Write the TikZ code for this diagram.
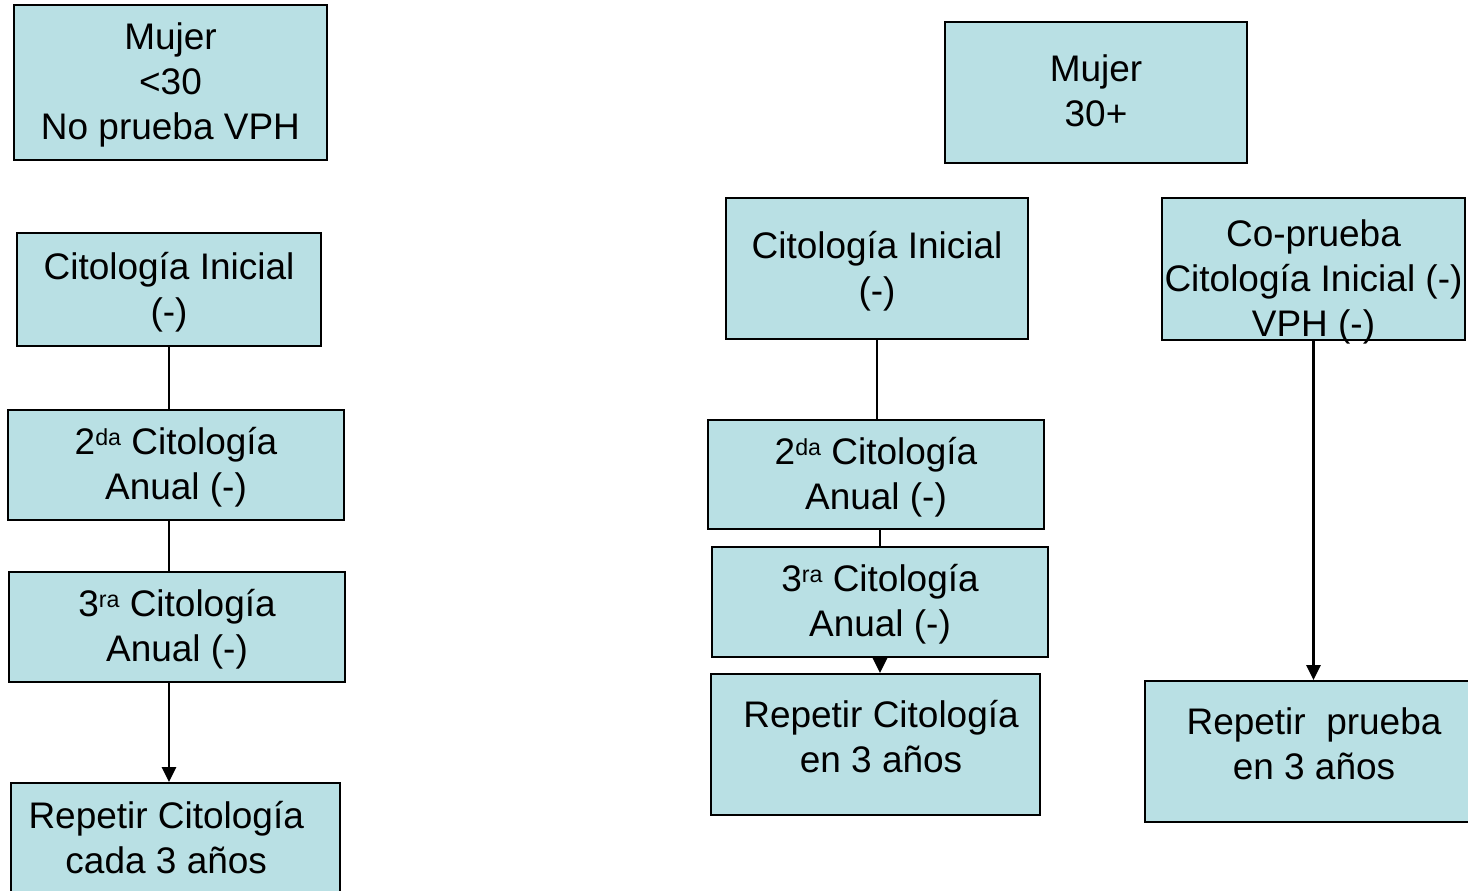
\documentclass[tikz,border=0pt]{standalone}
\usepackage{fontspec}
\setmainfont{Liberation Sans}
\usepackage{tikz}
\usetikzlibrary{arrows.meta}
\definecolor{cajaazul}{RGB}{185,224,228}
\newcommand{\supind}[1]{\raisebox{0.24em}{\fontsize{16.5}{16.5}\selectfont #1}}

\begin{document}
\begin{tikzpicture}[x=0.025cm, y=-0.025cm,
        caja/.style={draw, line width=1.5pt, fill=cajaazul, align=center, inner sep=0pt,
            font=\fontsize{26.3}{32}\selectfont, text depth=2.1pt,
            execute at begin node={\rule{0pt}{0.905em}}},
        linea/.style={line width=1.8pt},
        flecha/.style={line width=1.8pt, -{Triangle[length=10.5pt,width=10pt]}}]
        % Frame
        \useasboundingbox (0,0) rectangle (1468,890);
        \clip (0,0) rectangle (1468,890);
        % Left column
        \node [caja, minimum width=7.825cm, minimum height=3.875cm] (mujerA) at (170.5,82.5) {Mujer\\<30\\No prueba VPH};
        \node [caja, minimum width=7.6cm, minimum height=2.825cm] (citoA) at (169,289.5) {Citología Inicial\\(-)};
        \node [caja, minimum width=8.4cm, minimum height=2.75cm] (segA) at (176,465) {2\supind{da} Citología\\Anual (-)};
        \node [caja, minimum width=8.4cm, minimum height=2.75cm] (terA) at (177,627) {3\supind{ra} Citología\\Anual (-)};
        \node [caja, minimum width=8.225cm, minimum height=2.8cm] (repA) at (175.5,839) {Repetir Citología\hspace*{0.5em}\\cada 3 años\hspace*{0.5em}};
        % Right columns
        \node [caja, minimum width=7.55cm, minimum height=3.525cm] (mujerB) at (1096,92.5) {Mujer\\30+};
        \node [caja, minimum width=7.55cm, minimum height=3.525cm] (citoB) at (877,268.5) {Citología Inicial\\(-)};
        \node [caja, minimum width=7.575cm, minimum height=3.55cm] (coB) at (1313.5,269) {\rule{0pt}{1.3em}Co-prueba\\Citología Inicial (-)\\VPH (-)};
        \node [caja, minimum width=8.4cm, minimum height=2.725cm] (segB) at (876,474.5) {2\supind{da} Citología\\Anual (-)};
        \node [caja, minimum width=8.4cm, minimum height=2.75cm] (terB) at (880,602) {3\supind{ra} Citología\\Anual (-)};
        \node [caja, minimum width=8.225cm, minimum height=3.525cm, text depth=11.2pt] (repB) at (875.5,744.5) {\hspace*{0.3em}Repetir Citología\\\hspace*{0.3em}en 3 años};
        \node [caja, minimum width=8.45cm, minimum height=3.525cm, text depth=11.2pt] (repC) at (1314,751.5) {Repetir\ \ prueba\\en 3 años};
        % Lines
        \draw [linea] (citoA.south) -- (citoA.south |- segA.north);
        \draw [linea] (citoA.south |- segA.south) -- (citoA.south |- terA.north);
        \draw [flecha] (citoA.south |- terA.south) -- (citoA.south |- repA.north);
        \draw [linea] (citoB.south) -- (citoB.south |- segB.north);
        \draw [linea] (terB.north |- segB.south) -- (terB.north);
        \draw [flecha] (terB.south) -- (terB.south |- repB.north);
        \draw [flecha] (coB.south) -- (coB.south |- repC.north);
    \end{tikzpicture}
\end{document}
